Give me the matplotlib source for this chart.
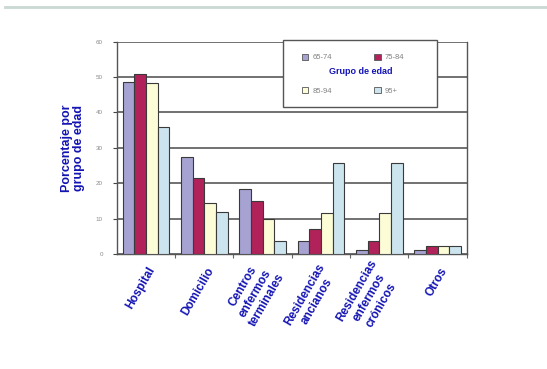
import matplotlib.pyplot as plt
import numpy as np
from matplotlib.lines import Line2D
from matplotlib.patches import Patch, Rectangle
from matplotlib.transforms import ScaledTranslation

plt.rcParams['font.family'] = ['Liberation Sans', 'DejaVu Sans']

lugares = ["Hospital", "Domicilio", "Centros\nenfermos\nterminales",
           "Residencias\nancianos", "Residencias\nenfermos\ncrónicos", "Otros"]
grupos = ["65-74", "75-84", "85-94", "95+"]

g_65_74 = [48.7, 27.5, 18.3, 3.8, 1.1, 1.1]
g_75_84 = [50.8, 21.6, 15.0, 7.1, 3.8, 2.3]
g_85_94 = [48.2, 14.3, 9.8, 11.7, 11.7, 2.3]
g_95 = [36.0, 12.0, 3.8, 25.6, 25.6, 2.3]
series = [g_65_74, g_75_84, g_85_94, g_95]

colores = ["#a6a2d2", "#b02259", "#fcfcd6", "#cce4ee"]
azul = "#1414b4"

fig = plt.figure(figsize=(5.47, 3.69), dpi=100)
fig.patch.set_facecolor("white")
ax = fig.add_axes([0.2133, 0.3117, 0.64, 0.5753])

# thin rule across the top of the slide
fig.add_artist(Line2D([0.01, 1.0], [0.981, 0.981], transform=fig.transFigure,
                      color="#c9d8d2", lw=2))

x = np.arange(len(lugares))
w = 0.2
for k, vals in enumerate(series):
    ax.bar(x + (k - 1.5) * w, vals, width=w, color=colores[k],
           edgecolor="#3a3a3a", linewidth=0.8, zorder=3)

ax.set_xlim(-0.5, len(lugares) - 0.5)
ax.set_ylim(0, 60)
ax.set_yticks(np.arange(0, 61, 10))
ax.yaxis.grid(True, color="#4a4a4a", lw=1.1, zorder=0)
ax.tick_params(axis="y", labelsize=4.5, labelcolor="#8a8a8a", length=3,
               color="#444444", pad=7)
for s in ax.spines.values():
    s.set_color("#555555")
    s.set_linewidth(1.0)
ax.spines["top"].set_visible(False)

ax.set_xticks(x + 0.5, minor=False)
ax.set_xticklabels([])
ax.tick_params(axis="x", length=3, color="#666666")

# rotated category labels
for i, lab in enumerate(lugares):
    off = ScaledTranslation(7 / 100, -14 / 100, fig.dpi_scale_trans)
    ax.text(i, 0, lab, transform=ax.get_xaxis_transform() + off,
            rotation=60, rotation_mode="anchor", ha="right", va="center",
            multialignment="center", fontsize=8.5, fontweight="bold",
            color=azul)

ax.set_ylabel("Porcentaje por\ngrupo de edad", fontsize=9, fontweight="bold",
              color=azul, labelpad=8, linespacing=1.0)

# legend box, drawn on its own so the entries can sit inside with room
ax.add_patch(Rectangle((0.475, 0.692), 0.44, 0.318, transform=ax.transAxes,
                       facecolor="white", edgecolor="#555555", lw=1.0,
                       zorder=5, clip_on=False))

# legend rows: 65-74 / 75-84 on top, 85-94 / 95+ below
orden = [0, 2, 1, 3]
handles = [Patch(facecolor=colores[k], edgecolor="#555555", linewidth=0.6)
           for k in orden]
leg = ax.legend(handles, [grupos[k] for k in orden], ncol=2, loc="upper left",
                bbox_to_anchor=(0.53, 0.943), borderaxespad=0, borderpad=0,
                fontsize=5.5, labelcolor="#808080", frameon=False,
                labelspacing=3.4, handlelength=0.8, handleheight=0.8,
                handletextpad=0.5, columnspacing=5.6)
leg.set_zorder(6)
ax.text(0.698, 0.859, "Grupo de edad", transform=ax.transAxes, ha="center",
        va="center", fontsize=6.5, fontweight="bold", color=azul, zorder=7)

fig.savefig("out.png", dpi=100)
